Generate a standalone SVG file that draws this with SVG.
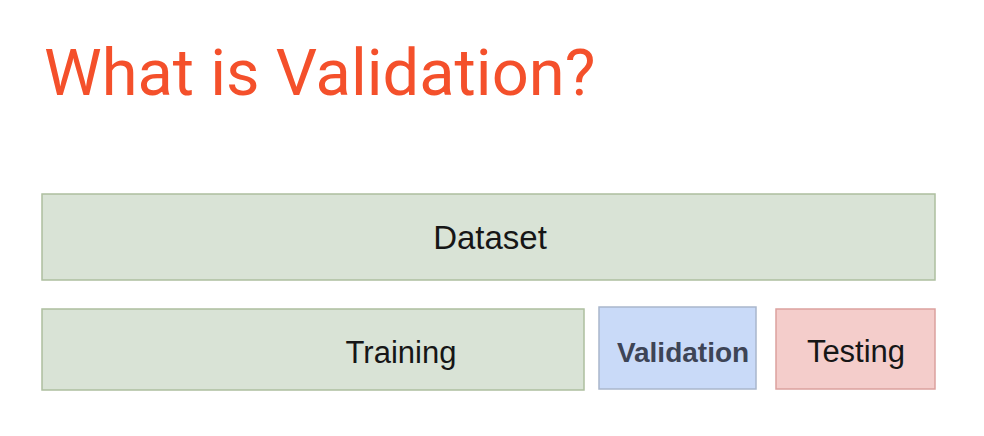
<svg xmlns="http://www.w3.org/2000/svg" width="984" height="436" viewBox="0 0 984 436">
<style>
.lbl{font-family:"Liberation Sans",Arial,sans-serif;fill:#161616;text-anchor:middle}
.green{fill:#d9e3d6;stroke:#adbf9f;stroke-width:1.5}
</style>
<rect width="984" height="436" fill="#ffffff"/>
<text x="44" y="95" font-family="Roboto,sans-serif" font-size="65" fill="#f4502b">What is Validation?</text>
<g id="dataset">
<rect class="green" x="42" y="194" width="893" height="86"/>
<text class="lbl" x="490" y="249" font-size="33">Dataset</text>
</g>
<g id="training">
<rect class="green" x="42" y="309" width="542" height="81"/>
<text class="lbl" x="401" y="363" font-size="31">Training</text>
</g>
<g id="validation">
<rect x="599" y="307" width="157" height="82" fill="#c9daf8" stroke="#a9b6cc" stroke-width="1.5"/>
<text x="683" y="362" font-family="'Liberation Sans',Arial,sans-serif" font-weight="bold" font-size="28" fill="#3d4456" text-anchor="middle">Validation</text>
</g>
<g id="testing">
<rect x="776" y="309" width="159" height="80" fill="#f4cdcb" stroke="#dba19e" stroke-width="1.5"/>
<text class="lbl" x="856" y="362" font-size="31">Testing</text>
</g>
<g id="connectors"></g>
</svg>
